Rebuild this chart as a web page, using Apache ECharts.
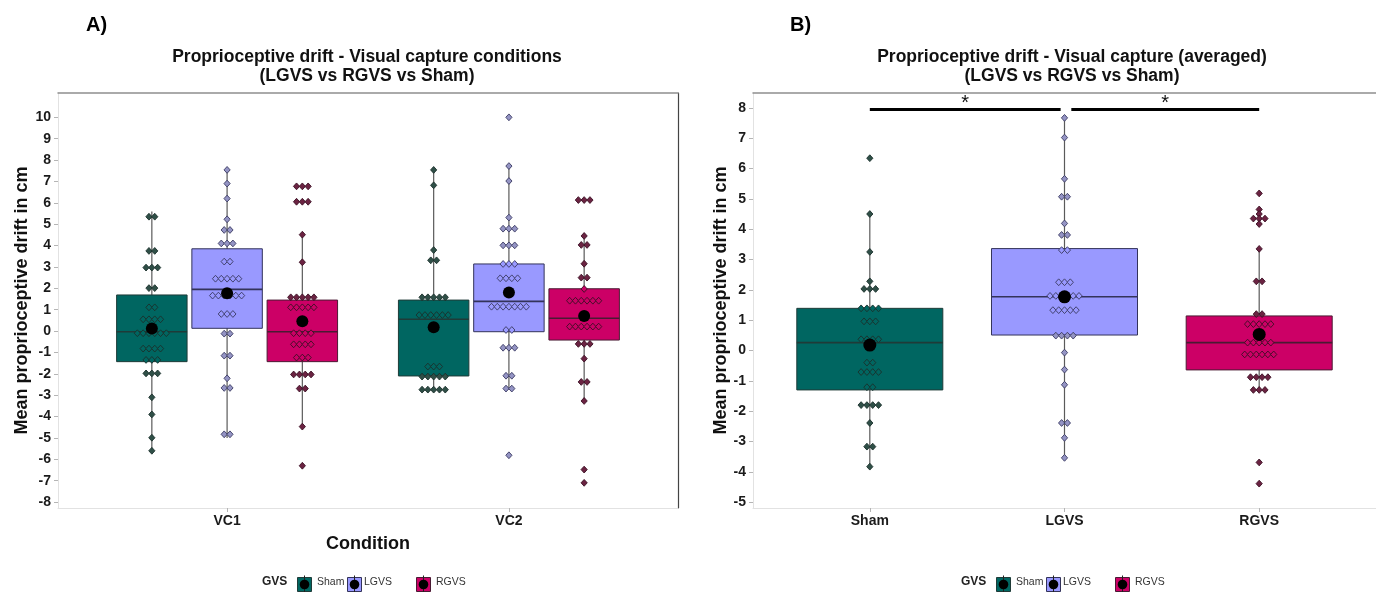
<!DOCTYPE html>
<html><head><meta charset="utf-8">
<script src="https://cdn.jsdelivr.net/npm/echarts@6/dist/echarts.min.js"></script>
<style>html,body{margin:0;padding:0;background:#fff}#c{width:1376px;height:592px}</style>
</head><body><div id="c"></div>
<script>
// ---------------- DATA ----------------
const groups = ['Sham', 'LGVS', 'RGVS'];
const conditionsA = ['VC1', 'VC2'];
const categoriesB = ['Sham', 'LGVS', 'RGVS'];
const yTicksA = [-8,-7,-6,-5,-4,-3,-2,-1,0,1,2,3,4,5,6,7,8,9,10];
const yTicksB = [-5,-4,-3,-2,-1,0,1,2,3,4,5,6,7,8];

// box statistics: [lower whisker, Q1, median, Q3, upper whisker] for Sham, LGVS, RGVS
const boxVC1 = [[-5.6,-1.43,-0.03,1.69,5.59],[-5.0,0.13,1.95,3.85,7.54],[-4.47,-1.43,-0.03,1.45,4.51]];
const boxVC2 = [[-2.85,-2.1,0.55,1.45,7.54],[-2.75,-0.03,1.39,3.14,7.72],[-3.27,-0.42,0.6,1.98,4.45]];
const boxAvg = [[-3.83,-1.3,0.26,1.39,4.5],[-3.54,0.51,1.77,3.36,7.67],[-1.3,-0.64,0.26,1.14,3.35]];
const meanVC1 = [0.12, 1.77, 0.46];
const meanVC2 = [0.18, 1.8, 0.7];
const meanAvg = [0.18, 1.77, 0.53];

// individual participant values (dot plot)
const dotsVC1Sham = [5.35,5.35,3.75,3.75,2.97,2.97,2.97,2.01,2.01,1.11,1.11,0.55,0.55,0.55,0.55,-0.1,-0.1,-0.1,-0.1,-0.1,-0.1,-0.82,-0.82,-0.82,-0.82,-1.35,-1.35,-1.35,-1.98,-1.98,-1.98,-3.1,-3.9,-4.99,-5.6];
const dotsVC1LGVS = [7.54,6.9,6.2,5.23,4.73,4.73,4.1,4.1,4.1,3.25,3.25,2.45,2.45,2.45,2.45,2.45,1.66,1.66,1.66,1.66,1.66,1.66,0.8,0.8,0.8,-0.12,-0.12,-1.15,-1.15,-2.21,-2.66,-2.66,-4.83,-4.83];
const dotsVC1RGVS = [6.77,6.77,6.77,6.05,6.05,6.05,4.51,3.22,1.58,1.58,1.58,1.58,1.58,1.11,1.11,1.11,1.11,1.11,-0.1,-0.1,-0.1,-0.1,-0.62,-0.62,-0.62,-0.62,-1.24,-1.24,-1.24,-2.03,-2.03,-2.03,-2.03,-2.69,-2.69,-4.47,-6.3];
const dotsVC2Sham = [7.54,6.82,3.79,3.31,3.31,1.58,1.58,1.58,1.58,1.58,0.75,0.75,0.75,0.75,0.75,0.75,-1.66,-1.66,-1.66,-2.13,-2.13,-2.13,-2.13,-2.13,-2.74,-2.74,-2.74,-2.74,-2.74];
const dotsVC2LGVS = [10.0,7.72,7.02,5.31,4.79,4.79,4.79,4.01,4.01,4.01,3.14,3.14,3.14,2.47,2.47,2.47,2.47,1.14,1.14,1.14,1.14,1.14,1.14,1.14,0.05,0.05,-0.78,-0.78,-0.78,-2.09,-2.09,-2.69,-2.69,-5.81];
const dotsVC2RGVS = [6.13,6.13,6.13,4.45,4.03,4.03,3.15,2.5,2.5,1.97,1.42,1.42,1.42,1.42,1.42,1.42,0.21,0.21,0.21,0.21,0.21,0.21,-0.6,-0.6,-0.6,-1.29,-2.38,-2.38,-3.27,-6.48,-7.1];
const dotsAvgSham = [6.34,4.5,3.25,2.28,2.03,2.03,2.03,1.39,1.39,1.39,1.39,0.96,0.96,0.96,0.37,0.37,0.37,0.37,-0.4,-0.4,-0.71,-0.71,-0.71,-0.71,-1.21,-1.21,-1.8,-1.8,-1.8,-1.8,-2.39,-3.17,-3.17,-3.83];
const dotsAvgLGVS = [7.67,7.02,5.66,5.07,5.07,4.19,3.81,3.81,3.31,3.31,2.25,2.25,2.25,1.8,1.8,1.8,1.8,1.8,1.8,1.33,1.33,1.33,1.33,1.33,0.49,0.49,0.49,0.49,-0.07,-0.63,-1.13,-2.39,-2.39,-2.88,-3.54];
const dotsAvgRGVS = [5.18,4.65,4.5,4.35,4.35,4.35,4.17,3.35,2.28,2.28,1.2,1.2,0.87,0.87,0.87,0.87,0.87,0.26,0.26,0.26,0.26,0.26,-0.13,-0.13,-0.13,-0.13,-0.13,-0.13,-0.88,-0.88,-0.88,-0.88,-1.3,-1.3,-1.3,-3.69,-4.39];

// significance comparisons (panel B)
const sigPairs = [['Sham', 'LGVS'], ['LGVS', 'RGVS']];
const sigLabels = ['*', '*'];
const sigLevel = 7.95;

// ---------------- STYLE ----------------
const FONT = 'Liberation Sans, Arial, Helvetica, sans-serif';
const boxColors = ['#006661', '#9999ff', '#cc0066'];
const boxStroke = ['#1f3b38', '#33335a', '#4a1a33'];
const dotFill = ['#2f4f47', '#9494c4', '#6b2342'];
const dotStroke = ['#1b302b', '#3a3a62', '#3b1024'];
const DODGE_A = 0.267, BOXW_A = 0.25, BOXW_B = 0.75, DOT_STEP = 5.8;

const chart = echarts.init(document.getElementById('c'));

function boxData(stats, xs) {
  return stats.map((s, g) => [xs[g], s[0], s[1], s[2], s[3], s[4], g]);
}
function dotData(values, x, g, stats) {
  const counts = {}, seen = {};
  values.forEach(v => { counts[v] = (counts[v] || 0) + 1; });
  return values.map(v => {
    seen[v] = seen[v] === undefined ? 0 : seen[v] + 1;
    const inside = (v >= stats[1] && v <= stats[3]) ? 1 : 0;
    return [x, v, seen[v] - (counts[v] - 1) / 2, g, inside];
  });
}
function renderBox(w) {
  return function (params, api) {
    const x = api.value(0), g = api.value(6);
    const lo = api.coord([x, api.value(1)]), hi = api.coord([x, api.value(5)]);
    const a = api.coord([x - w / 2, api.value(4)]), b = api.coord([x + w / 2, api.value(2)]);
    const m1 = api.coord([x - w / 2, api.value(3)]), m2 = api.coord([x + w / 2, api.value(3)]);
    return { type: 'group', children: [
      { type: 'line', shape: { x1: lo[0], y1: lo[1], x2: hi[0], y2: hi[1] }, style: { stroke: '#5a5a5a', lineWidth: 1.2 } },
      { type: 'rect', shape: { x: a[0], y: a[1], width: b[0] - a[0], height: b[1] - a[1] }, style: { fill: boxColors[g], stroke: boxStroke[g], lineWidth: 1 } },
      { type: 'line', shape: { x1: m1[0], y1: m1[1], x2: m2[0], y2: m2[1] }, style: { stroke: boxStroke[g], lineWidth: 1.6 } }
    ] };
  };
}
function renderDot(params, api) {
  const p = api.coord([api.value(0), api.value(1)]);
  const cx = p[0] + api.value(2) * DOT_STEP, cy = p[1], g = api.value(3), ins = api.value(4);
  const hw = 3.1, hh = 3.4;
  return { type: 'polygon', shape: { points: [[cx, cy - hh], [cx + hw, cy], [cx, cy + hh], [cx - hw, cy]] },
    style: { fill: ins ? boxColors[g] : dotFill[g], stroke: dotStroke[g], lineWidth: 0.9 } };
}

// positions
const xsA = conditionsA.map((c, i) => groups.map((g, j) => i + 1 + (j - 1) * DODGE_A));
const xsB = categoriesB.map((c, i) => i + 1);
const dotsA = [[dotsVC1Sham, dotsVC1LGVS, dotsVC1RGVS], [dotsVC2Sham, dotsVC2LGVS, dotsVC2RGVS]];
const boxesA = [boxVC1, boxVC2];
const meansA = [meanVC1, meanVC2];
const dotsB = [dotsAvgSham, dotsAvgLGVS, dotsAvgRGVS];

let dotSeriesA = [], boxSeriesA = [], meanSeriesA = [];
boxesA.forEach((bs, i) => { boxSeriesA = boxSeriesA.concat(boxData(bs, xsA[i])); });
dotsA.forEach((arr, i) => arr.forEach((vals, g) => { dotSeriesA = dotSeriesA.concat(dotData(vals, xsA[i][g], g, boxesA[i][g])); }));
meansA.forEach((ms, i) => ms.forEach((m, g) => meanSeriesA.push([xsA[i][g], m])));
let dotSeriesB = [];
dotsB.forEach((vals, g) => { dotSeriesB = dotSeriesB.concat(dotData(vals, xsB[g], g, boxAvg[g])); });
const meanSeriesB = meanAvg.map((m, g) => [xsB[g], m]);
const sigData = sigPairs.map((p, k) => [categoriesB.indexOf(p[0]) + 1, categoriesB.indexOf(p[1]) + 1, sigLevel, k]);

const labelStyle = { fontFamily: FONT, fontWeight: 'bold', fontSize: 14, color: '#1a1a1a' };
const nameStyle = { fontFamily: FONT, fontWeight: 'bold', fontSize: 18, color: '#111' };

function yAxisCfg(grid, min, max, ticks, gap) {
  return { type: 'value', gridIndex: grid, min: min, max: max, position: 'left',
    axisLine: { show: true, onZero: false, lineStyle: { color: '#e2e2e2', width: 1 } },
    axisTick: { show: true, length: 4, customValues: ticks, lineStyle: { color: '#b5b5b5' } },
    axisLabel: Object.assign({ customValues: ticks, margin: 7 }, labelStyle),
    splitLine: { show: false },
    name: 'Mean proprioceptive drift in cm', nameLocation: 'middle', nameGap: gap, nameRotate: 90,
    nameTextStyle: nameStyle };
}
function frameAxis(grid, min, max, pos, color, width) {
  return { type: 'value', gridIndex: grid, min: min, max: max, position: pos,
    axisLine: { show: true, onZero: false, lineStyle: { color: color, width: width } },
    axisTick: { show: false }, axisLabel: { show: false }, splitLine: { show: false } };
}

const legendKeysX = [297, 347, 416];
const legendLabelsX = [317, 364, 436];
const legendGVSX = 262;
const legendOffsets = [0, 699];
const graphics = [];
legendOffsets.forEach(dx => {
  graphics.push({ type: 'text', left: legendGVSX + dx, top: 576, style: { text: 'GVS', font: 'bold 12px ' + FONT, fill: '#222' } });
  groups.forEach((g, i) => {
    const kx = legendKeysX[i] + dx;
    graphics.push({ type: 'group', left: kx, top: 573, children: [
      { type: 'rect', shape: { x: 0, y: 2, width: 14, height: 14 }, style: { fill: boxColors[i], stroke: boxStroke[i], lineWidth: 1 } },
      { type: 'line', shape: { x1: 7, y1: 0, x2: 7, y2: 18 }, style: { stroke: '#222', lineWidth: 1 } },
      { type: 'circle', shape: { cx: 7, cy: 9, r: 4.8 }, style: { fill: '#000' } }
    ] });
    graphics.push({ type: 'text', left: legendLabelsX[i] + dx, top: 577, style: { text: g, font: '10.5px ' + FONT, fill: '#333' } });
  });
});

const option = {
  backgroundColor: '#fff',
  animation: false,
  title: [
    { text: 'A)', left: 81, top: 10, textStyle: { fontFamily: FONT, fontWeight: 'bold', fontSize: 20, color: '#000' } },
    { text: 'Proprioceptive drift - Visual capture conditions\n(LGVS vs RGVS vs Sham)', left: 362, top: 43, textAlign: 'center',
      textStyle: { fontFamily: FONT, fontWeight: 'bold', fontSize: 17.5, lineHeight: 19, color: '#111', align: 'center' } },
    { text: 'B)', left: 785, top: 10, textStyle: { fontFamily: FONT, fontWeight: 'bold', fontSize: 20, color: '#000' } },
    { text: 'Proprioceptive drift - Visual capture (averaged)\n(LGVS vs RGVS vs Sham)', left: 1067, top: 43, textAlign: 'center',
      textStyle: { fontFamily: FONT, fontWeight: 'bold', fontSize: 17.5, lineHeight: 19, color: '#111', align: 'center' } }
  ],
  grid: [
    { left: 58, top: 93, width: 620, height: 415 },
    { left: 753, top: 93, width: 627, height: 415 }
  ],
  xAxis: [
    { type: 'value', gridIndex: 0, min: 0.4, max: 2.6, position: 'bottom',
      axisLine: { show: true, onZero: false, lineStyle: { color: '#e2e2e2' } },
      axisTick: { show: true, length: 4, customValues: [1, 2], lineStyle: { color: '#b5b5b5' } },
      axisLabel: Object.assign({ customValues: [1, 2], margin: 6, formatter: v => conditionsA[Math.round(v) - 1] }, labelStyle),
      splitLine: { show: false },
      name: 'Condition', nameLocation: 'middle', nameGap: 27, nameTextStyle: nameStyle },
    frameAxis(0, 0.4, 2.6, 'top', '#8f8f8f', 1.5),
    { type: 'value', gridIndex: 1, min: 0.4, max: 3.6, position: 'bottom',
      axisLine: { show: true, onZero: false, lineStyle: { color: '#e2e2e2' } },
      axisTick: { show: true, length: 4, customValues: [1, 2, 3], lineStyle: { color: '#b5b5b5' } },
      axisLabel: Object.assign({ customValues: [1, 2, 3], margin: 6, formatter: v => categoriesB[Math.round(v) - 1] }, labelStyle),
      splitLine: { show: false } },
    frameAxis(1, 0.4, 3.6, 'top', '#8f8f8f', 1.5)
  ],
  yAxis: [
    yAxisCfg(0, -8.277, 11.138, yTicksA, 27),
    frameAxis(0, -8.277, 11.138, 'right', '#444', 1.2),
    yAxisCfg(1, -5.193, 8.49, yTicksB, 22)
  ],
  series: [
    { type: 'custom', xAxisIndex: 0, yAxisIndex: 0, renderItem: renderBox(BOXW_A), data: boxSeriesA, z: 2, silent: true },
    { type: 'custom', xAxisIndex: 0, yAxisIndex: 0, renderItem: renderDot, data: dotSeriesA, z: 3, silent: true },
    { type: 'scatter', xAxisIndex: 0, yAxisIndex: 0, data: meanSeriesA, symbol: 'circle', symbolSize: 12, itemStyle: { color: '#000', opacity: 1 }, z: 4, silent: true },
    { type: 'custom', xAxisIndex: 2, yAxisIndex: 2, renderItem: renderBox(BOXW_B), data: boxData(boxAvg, xsB), z: 2, silent: true },
    { type: 'custom', xAxisIndex: 2, yAxisIndex: 2, renderItem: renderDot, data: dotSeriesB, z: 3, silent: true },
    { type: 'scatter', xAxisIndex: 2, yAxisIndex: 2, data: meanSeriesB, symbol: 'circle', symbolSize: 13, itemStyle: { color: '#000', opacity: 1 }, z: 4, silent: true },
    { type: 'custom', xAxisIndex: 2, yAxisIndex: 2, silent: true, z: 5, data: sigData,
      renderItem: function (params, api) {
        const k = api.value(3);
        const x1 = api.value(0) + (k === 0 ? 0 : 0.035), x2 = api.value(1) - (k === 0 ? 0.02 : 0);
        const p1 = api.coord([x1, api.value(2)]), p2 = api.coord([x2, api.value(2)]);
        return { type: 'group', children: [
          { type: 'line', shape: { x1: p1[0], y1: p1[1], x2: p2[0], y2: p2[1] }, style: { stroke: '#000', lineWidth: 3 } },
          { type: 'text', x: (p1[0] + p2[0]) / 2, y: p1[1] + 4, style: { text: sigLabels[k], font: '20px ' + FONT, fill: '#111', align: 'center', verticalAlign: 'bottom' } }
        ] };
      } }
  ],
  graphic: graphics
};
chart.setOption(option);
</script></body></html>
